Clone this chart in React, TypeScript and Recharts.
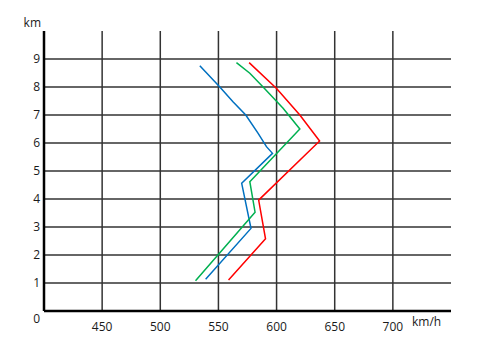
import { LineChart, Line, XAxis, YAxis, CartesianGrid, Label } from 'recharts';

// speed (km/h) vs altitude (km)
const blueSpeed = [539, 578, 570, 596.5, 591.3, 584, 573.5, 562.5, 551, 534];
const blueKm = [1.13, 2.95, 4.56, 5.63, 5.87, 6.35, 7.0, 7.47, 8.01, 8.76];

const greenSpeed = [530.3, 581.5, 577, 620, 605.6, 588.4, 577, 565.5];
const greenKm = [1.08, 3.53, 4.62, 6.5, 7.24, 8.0, 8.49, 8.87];

const redSpeed = [558.7, 590.5, 584.6, 637, 620, 600, 576.4];
const redKm = [1.11, 2.58, 3.96, 6.07, 7.0, 7.95, 8.87];

const xTicks = [450, 500, 550, 600, 650, 700];
const yTicks = [0, 1, 2, 3, 4, 5, 6, 7, 8, 9];

const toPoints = (speed: number[], km: number[]) => speed.map((s, i) => ({ speed: s, km: km[i] }));

const blueData = toPoints(blueSpeed, blueKm);
const greenData = toPoints(greenSpeed, greenKm);
const redData = toPoints(redSpeed, redKm);

const FONT = '"Open Sans", sans-serif';
const TEXT = '#1a1a1a';

function XTick({ x, y, payload }: { x?: number; y?: number; payload?: { value: number } }) {
  return (
    <text x={x} y={(y ?? 0) + 12} textAnchor="middle" fontFamily={FONT} fontSize={12} fill={TEXT}>
      {payload?.value}
    </text>
  );
}

function YTick({ y, payload }: { x?: number; y?: number; payload?: { value: number } }) {
  const v = payload?.value ?? 0;
  return (
    <text x={40} y={v === 0 ? (y ?? 0) + 12 : (y ?? 0) + 4.3} textAnchor="end" fontFamily={FONT} fontSize={12} fill={TEXT}>
      {v}
    </text>
  );
}

export default function App() {
  return (
    <div style={{ position: 'absolute', left: 0, top: 0, width: 480, height: 348, background: '#fff' }}>
      <LineChart width={480} height={348} margin={{ top: 31, right: 29, left: 0, bottom: 0 }}>
        <CartesianGrid stroke="#333" strokeWidth={1.5} horizontalValues={yTicks} verticalValues={xTicks} />
        <XAxis
          type="number"
          dataKey="speed"
          domain={[400, 750]}
          ticks={xTicks}
          height={37}
          tickLine={false}
          axisLine={{ stroke: '#000', strokeWidth: 2.5 }}
          tick={<XTick />}
          interval={0}
        >
          <Label
            content={({ viewBox }: any) => (
              <text x={viewBox.x + viewBox.width - 39} y={viewBox.y + 15} fontFamily={FONT} fontSize={12} fill={TEXT}>
                km/h
              </text>
            )}
          />
        </XAxis>
        <YAxis
          type="number"
          dataKey="km"
          domain={[0, 10]}
          ticks={yTicks}
          width={44}
          tickLine={false}
          axisLine={{ stroke: '#000', strokeWidth: 2.5 }}
          tick={<YTick />}
          interval={0}
        >
          <Label
            content={({ viewBox }: any) => (
              <text x={viewBox.x + viewBox.width - 3} y={viewBox.y - 4} textAnchor="end" fontFamily={FONT} fontSize={12} fill={TEXT}>
                km
              </text>
            )}
          />
        </YAxis>
        <Line data={blueData} dataKey="km" stroke="#0070C0" strokeWidth={1.5} dot={false} isAnimationActive={false} />
        <Line data={greenData} dataKey="km" stroke="#00B050" strokeWidth={1.5} dot={false} isAnimationActive={false} />
        <Line data={redData} dataKey="km" stroke="#FF0000" strokeWidth={1.5} dot={false} isAnimationActive={false} />
      </LineChart>
    </div>
  );
}
